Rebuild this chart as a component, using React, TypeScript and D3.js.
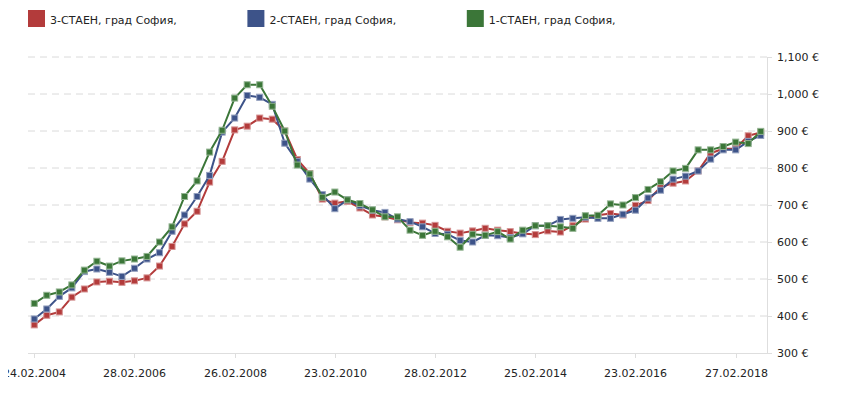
import { useEffect, useRef } from 'react'
import * as d3 from 'd3'

// quarterly prices, EUR / sq.m
const series3 = [376, 402, 411, 451, 473, 492, 494, 491, 495, 503, 535, 588, 649, 683, 762, 818, 903, 913, 935, 932, 900, 823, 785, 716, 705, 710, 692, 673, 668, 660, 653, 651, 645, 629, 624, 630, 637, 632, 628, 623, 620, 630, 627, 644, 662, 672, 677, 673, 699, 712, 748, 759, 765, 792, 840, 852, 853, 887, 896]
const series2 = [392, 419, 453, 476, 520, 527, 518, 507, 529, 554, 571, 629, 673, 723, 780, 897, 935, 996, 991, 972, 867, 818, 770, 728, 690, 714, 698, 686, 680, 662, 655, 641, 623, 621, 604, 600, 618, 617, 612, 622, 644, 644, 661, 664, 667, 664, 664, 675, 686, 719, 740, 770, 778, 792, 824, 849, 849, 872, 888]
const series1 = [434, 456, 465, 484, 524, 548, 535, 549, 554, 561, 600, 641, 723, 765, 843, 902, 989, 1025, 1025, 967, 900, 808, 784, 721, 735, 714, 704, 687, 668, 668, 632, 618, 629, 614, 586, 621, 618, 628, 608, 632, 644, 644, 641, 637, 671, 672, 703, 700, 720, 742, 763, 792, 799, 849, 849, 858, 870, 866, 899]

const seriesNames = ['3-СТАЕН, град София,', '2-СТАЕН, град София,', '1-СТАЕН, град София,']
const seriesColors = ['#b33b3b', '#3d5389', '#3b7638']

// labels shown every 8th point
const tickLabels = ['24.02.2004', '28.02.2006', '26.02.2008', '23.02.2010', '28.02.2012', '25.02.2014', '23.02.2016', '27.02.2018']
const tickStep = 8
const yTicks = [300, 400, 500, 600, 700, 800, 900, 1000, 1100]

export default function App() {
  const svgRef = useRef<SVGSVGElement>(null)

  useEffect(() => {
    const svg = d3.select(svgRef.current)
    svg.selectAll('*').remove()

    // work in page coordinates (body has 8px margin)
    const g = svg.append('g').attr('transform', 'translate(-8,-8)')
    const font = '"DejaVu Sans", Verdana, sans-serif'

    const all = [series3, series2, series1]
    const n = series3.length
    const x = d3.scalePoint<number>().domain(d3.range(n)).range([28, 767]).padding(0.5)
    const y = d3.scaleLinear().domain([300, 1100]).range([353, 57])

    // grid
    g.append('g')
      .selectAll('line')
      .data(yTicks.filter((v) => v > 300))
      .join('line')
      .attr('x1', 28)
      .attr('x2', 767)
      .attr('y1', (d) => y(d))
      .attr('y2', (d) => y(d))
      .attr('stroke', '#dadada')
      .attr('stroke-dasharray', '7,5')

    // x axis
    g.append('line').attr('x1', 28).attr('x2', 767).attr('y1', 353.5).attr('y2', 353.5).attr('stroke', '#dedede')
    const xt = g.append('g')
    tickLabels.forEach((lbl, k) => {
      const px = Math.round(x(k * tickStep)!) + 0.5
      xt.append('line').attr('x1', px).attr('x2', px).attr('y1', 353).attr('y2', 358).attr('stroke', '#dedede')
      xt.append('text')
        .attr('x', px)
        .attr('y', 376.5)
        .attr('text-anchor', 'middle')
        .style('font-family', font)
        .style('font-size', '11px')
        .attr('fill', '#222')
        .text(lbl)
    })

    // y axis (right)
    g.append('line').attr('x1', 767.5).attr('x2', 767.5).attr('y1', 57).attr('y2', 353).attr('stroke', '#dedede')
    const yt = g.append('g')
    yTicks.forEach((v) => {
      const py = Math.round(y(v)) + 0.5
      yt.append('line').attr('x1', 767).attr('x2', 772).attr('y1', py).attr('y2', py).attr('stroke', '#dedede')
      yt.append('text')
        .attr('x', 777)
        .attr('y', py)
        .attr('dy', '0.35em')
        .style('font-family', font)
        .style('font-size', '11px')
        .attr('fill', '#222')
        .text(d3.format(',')(v) + ' €')
    })

    // series
    const line = d3
      .line<number>()
      .x((_, i) => x(i)!)
      .y((d) => y(d))
    all.forEach((vals, s) => {
      const c = seriesColors[s]
      const sg = g.append('g')
      sg.append('path')
        .attr('d', line(vals))
        .attr('fill', 'none')
        .attr('stroke', c)
        .attr('stroke-width', 2)
        .attr('stroke-linejoin', 'round')
      sg.selectAll('rect')
        .data(vals)
        .join('rect')
        .attr('x', (_, i) => x(i)! - 3)
        .attr('y', (d) => y(d) - 3)
        .attr('width', 6)
        .attr('height', 6)
        .attr('fill', c)
        .attr('stroke', d3.interpolateRgb(c, '#ffffff')(0.45))
        .attr('stroke-width', 1)
    })

    // legend
    const lg = g.append('g')
    seriesNames.forEach((name, s) => {
      const lx = 28 + s * 219.4
      lg.append('rect').attr('x', lx).attr('y', 10).attr('width', 17).attr('height', 17).attr('fill', seriesColors[s])
      lg.append('text')
        .attr('x', lx + 22)
        .attr('y', 23.5)
        .style('font-family', font)
        .style('font-size', '11px')
        .attr('fill', '#222')
        .text(name)
    })
  }, [])

  return <svg ref={svgRef} width={833} height={377} style={{ display: 'block' }} />
}
